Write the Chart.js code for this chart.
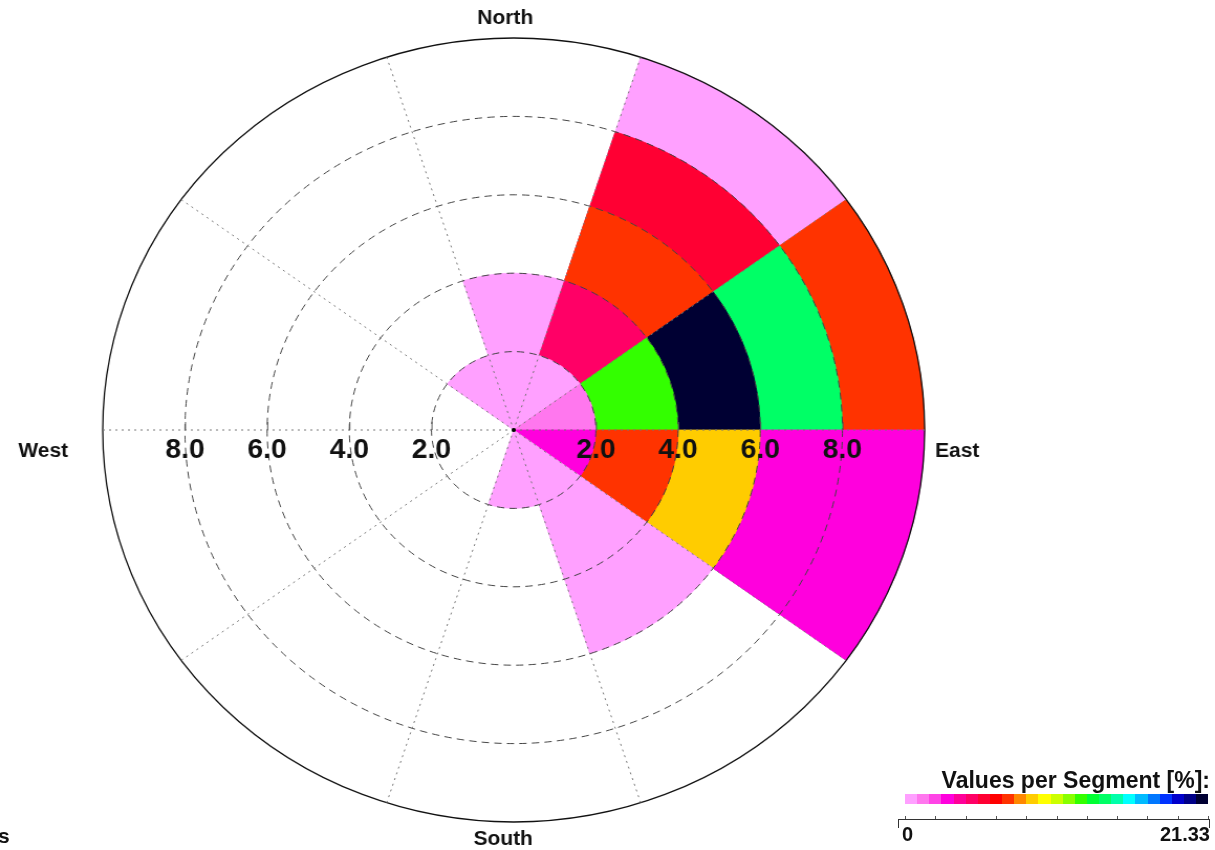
<!DOCTYPE html>
<html>
<head>
<meta charset="utf-8">
<script src="https://cdn.jsdelivr.net/npm/chart.js@4.4.0/dist/chart.umd.min.js"></script>
<style>
html,body{margin:0;padding:0;background:#fff;width:1215px;height:850px;overflow:hidden;font-family:"Liberation Sans",Arial,Helvetica,sans-serif;}
#wrap{position:absolute;left:0;top:0;width:1159px;height:850px;transform:scaleX(1.04832);transform-origin:0 0;}
#chart{position:absolute;left:0;top:0;}
.txt{position:absolute;font-weight:bold;color:#111;white-space:nowrap;}
#cb-title{right:5px;top:767px;font-size:23px;line-height:26px;}
#cb-bar{position:absolute;left:905px;top:794px;width:303px;height:10px;display:flex;}
#cb-bar span{flex:1 1 0;height:100%;}
#cb-axis{position:absolute;left:898px;top:819px;width:312px;height:1px;background:#333;}
.cb-end{position:absolute;top:819px;width:1px;height:9px;background:#333;}
.cb-tick{position:absolute;top:816px;width:1px;height:3px;background:#555;}
#cb-min{left:902px;top:823px;font-size:20px;line-height:22px;}
#cb-max{right:5px;top:823px;font-size:20px;line-height:22px;}
#frag{left:-2px;top:824px;font-size:21px;line-height:24px;}
</style>
</head>
<body>
<div id="wrap"><canvas id="chart" width="1159" height="850"></canvas></div>
<div class="txt" id="frag">s</div>
<div class="txt" id="cb-title">Values per Segment [%]:</div>
<div id="cb-bar"></div>
<div id="cb-axis"></div>
<div class="cb-end" style="left:898px"></div>
<div class="cb-end" style="left:1209px"></div>
<div class="txt" id="cb-min">0</div>
<div class="txt" id="cb-max">21.33</div>
<script>
// Direction sectors (36° wide, centred on these bearings)
const directions = ['0°', '36°', '72°', '108°', '144°', '180°', '216°', '252°', '288°', '324°'];
// Radial bins (speed classes) upper edges
const binEdges = [2, 4, 6, 8, 10];
// Percentage per segment, for each radial bin, per direction
const pctBin0to2  = [0.4, 0.4, 1.2, 2.8, 0.4, 0.4, 0, 0, 0, 0.4];
const pctBin2to4  = [0.4, 4.5, 12.2, 7.0, 0.4, 0, 0, 0, 0, 0];
const pctBin4to6  = [0, 7.0, 21.33, 8.8, 0.4, 0, 0, 0, 0, 0];
const pctBin6to8  = [0, 5.4, 13.9, 2.8, 0, 0, 0, 0, 0, 0];
const pctBin8to10 = [0, 0.4, 7.0, 2.8, 0, 0, 0, 0, 0, 0];
// Radial tick labels
const tickValues = [2, 4, 6, 8];
const tickLabels = ['2.0', '4.0', '6.0', '8.0'];
const compassLabels = ['North', 'East', 'South', 'West'];
// Colour scale
const colorMax = 21.33;
const cmap = ['#FFA0FF','#FF77EE','#FF44E6','#FF00DD','#FF0099','#FF0066','#FF0033','#FF0000',
  '#FF3300','#FF8800','#FFCC00','#FFFF00','#CCFF00','#88FF00','#33FF00','#00FF33','#00FF66',
  '#00FFAA','#00FFFF','#00BBFF','#0077FF','#0033FF','#0000CC','#000088','#000033'];

function colorFor(v) {
  if (!(v > 0)) return 'rgba(0,0,0,0)';
  const idx = Math.min(cmap.length - 1, Math.floor(v / colorMax * cmap.length));
  return cmap[idx];
}

// colour bar
const bar = document.getElementById('cb-bar');
cmap.forEach(c => { const s = document.createElement('span'); s.style.background = c; bar.appendChild(s); });
for (let k = 0; k <= 10; k++) {
  const t = document.createElement('div');
  t.className = 'cb-tick';
  t.style.left = (905 + k * 30.3) + 'px';
  document.body.appendChild(t);
}

const bins = [pctBin0to2, pctBin2to4, pctBin4to6, pctBin6to8, pctBin8to10];
const datasets = bins.map((pcts, k) => ({
  label: (k * 2) + '-' + binEdges[k],
  data: pcts.map(p => p > 0 ? binEdges[k] : 0),
  backgroundColor: pcts.map(colorFor),
  borderColor: pcts.map(colorFor),
  borderWidth: pcts.map(p => p > 0 ? 0.8 : 0),
  order: k
}));

const FONT = '"Liberation Sans", Arial, Helvetica, sans-serif';
const labelPlugin = {
  id: 'roseLabels',
  afterDraw(chart) {
    const s = chart.scales.r;
    const ctx = chart.ctx;
    const cx = s.xCenter, cy = s.yCenter, R = s.drawingArea;
    ctx.save();
    ctx.fillStyle = '#000';
    ctx.beginPath(); ctx.arc(cx, cy, 2, 0, Math.PI * 2); ctx.fill();
    // small tick marks on the horizontal axis
    ctx.strokeStyle = '#555';
    ctx.lineWidth = 1;
    tickValues.forEach(v => {
      const d = s.getDistanceFromCenterForValue(v);
      [cx - d, cx + d].forEach(x => {
        ctx.beginPath(); ctx.moveTo(x + 0.5, cy - 8); ctx.lineTo(x + 0.5, cy); ctx.stroke();
      });
    });
    ctx.fillStyle = '#111';
    ctx.font = 'bold 27px ' + FONT;
    ctx.textAlign = 'center';
    ctx.textBaseline = 'middle';
    tickValues.forEach((v, i) => {
      const d = s.getDistanceFromCenterForValue(v);
      ctx.fillText(tickLabels[i], cx + d, cy + 21);
      ctx.fillText(tickLabels[i], cx - d, cy + 21);
    });
    ctx.font = 'bold 20px ' + FONT;
    ctx.fillText(compassLabels[0], cx - 8, cy - R - 20);
    ctx.fillText(compassLabels[2], cx - 10, cy + R + 17);
    ctx.textAlign = 'left';
    ctx.fillText(compassLabels[1], cx + R + 10, cy + 21);
    ctx.textAlign = 'right';
    ctx.fillText(compassLabels[3], cx - R - 33, cy + 21);
    ctx.restore();
  }
};

new Chart(document.getElementById('chart'), {
  type: 'polarArea',
  data: { labels: directions, datasets: datasets },
  options: {
    responsive: false,
    animation: false,
    layout: { padding: { left: 98, top: 38, right: 277, bottom: 28 } },
    plugins: { legend: { display: false }, tooltip: { enabled: false } },
    scales: {
      r: {
        min: 0, max: 10,
        startAngle: -18,
        ticks: { display: false, stepSize: 2 },
        pointLabels: { display: false },
        angleLines: { display: true, color: '#777', lineWidth: 1, borderDash: [2, 4] },
        grid: {
          circular: true, z: 1,
          color: ctx => ctx.tick && ctx.tick.value === 10 ? '#111' : '#444',
          lineWidth: ctx => ctx.tick && ctx.tick.value === 10 ? 1.3 : 1
        },
        border: { dash: ctx => ctx.tick && ctx.tick.value === 10 ? [] : [7, 5] }
      }
    }
  },
  plugins: [labelPlugin]
});
</script>
</body>
</html>
